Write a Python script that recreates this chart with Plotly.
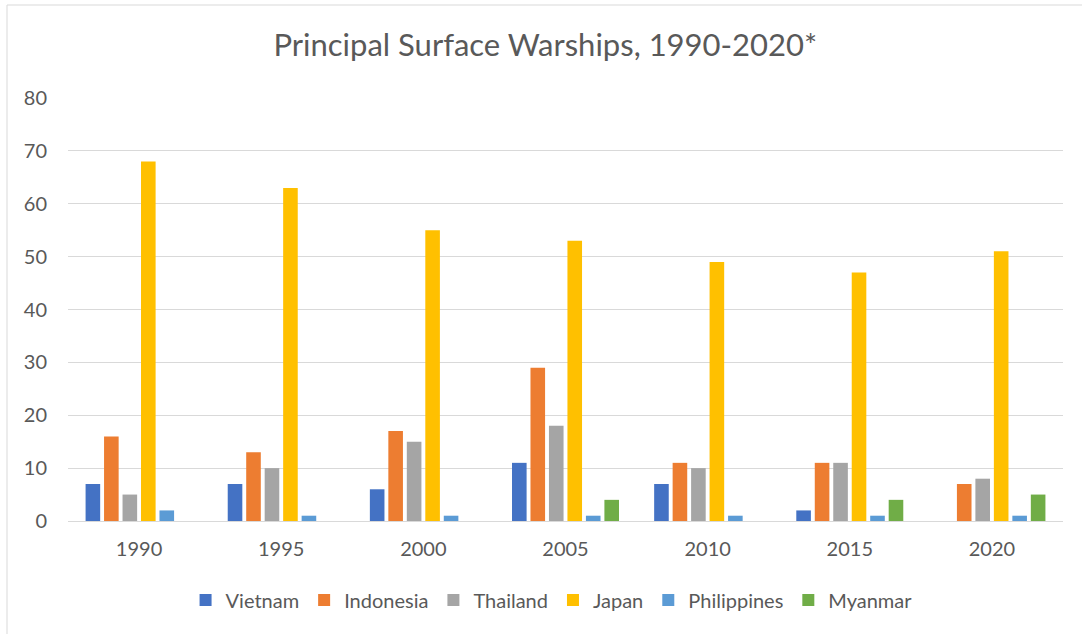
import plotly.graph_objects as go

years = ["1990", "1995", "2000", "2005", "2010", "2015", "2020"]

vietnam = [7, 7, 6, 11, 7, 2, 0]
indonesia = [16, 13, 17, 29, 11, 11, 7]
thailand = [5, 10, 15, 18, 10, 11, 8]
japan = [68, 63, 55, 53, 49, 47, 51]
philippines = [2, 1, 1, 1, 1, 1, 1]
myanmar = [0, 0, 0, 4, 0, 4, 5]

series = [
    ("Vietnam", vietnam, "#4472C4"),
    ("Indonesia", indonesia, "#ED7D31"),
    ("Thailand", thailand, "#A5A5A5"),
    ("Japan", japan, "#FFC000"),
    ("Philippines", philippines, "#5B9BD5"),
    ("Myanmar", myanmar, "#70AD47"),
]

font_family = "Lato, 'Open Sans', sans-serif"
text_color = "#595959"

fig = go.Figure()
for name, vals, color in series:
    fig.add_trace(go.Bar(
        x=years, y=vals, name=name,
        marker=dict(color=color, line=dict(width=0)),
    ))

fig.update_layout(
    width=1082, height=634,
    margin=dict(l=68, r=19, t=98, b=113),
    paper_bgcolor="white",
    plot_bgcolor="white",
    barmode="group",
    bargap=0.22,
    bargroupgap=0.21,
    font=dict(family=font_family, color=text_color, size=20),
    title=dict(
        text="Principal Surface Warships, 1990-2020*",
        x=0.504, xanchor="center",
        y=1 - 45 / 634, yanchor="middle",
        font=dict(size=31, color=text_color, family=font_family),
    ),
    xaxis=dict(
        showgrid=False, showline=False, ticks="",
        ticklabelstandoff=14,
        tickfont=dict(size=20, color=text_color),
    ),
    yaxis=dict(
        range=[0, 80], dtick=10,
        showgrid=True, gridcolor="#D9D9D9", gridwidth=1,
        zeroline=True, zerolinecolor="#D9D9D9", zerolinewidth=1,
        showline=False, ticks="", ticklabelstandoff=20,
        tickfont=dict(size=20, color=text_color),
    ),
    legend=dict(
        orientation="h", x=0.486, xanchor="center",
        y=-(600 - 521) / 423, yanchor="middle",
        font=dict(size=20, color=text_color),
        itemwidth=30, traceorder="normal",
    ),
    shapes=[dict(
        type="rect", xref="paper", yref="paper",
        x0=-61 / 995, x1=1.1, y0=-0.5, y1=1 + 93 / 423,
        line=dict(color="#D9D9D9", width=1), fillcolor="rgba(0,0,0,0)",
        layer="below",
    )],
)

fig.write_html("out.html")
